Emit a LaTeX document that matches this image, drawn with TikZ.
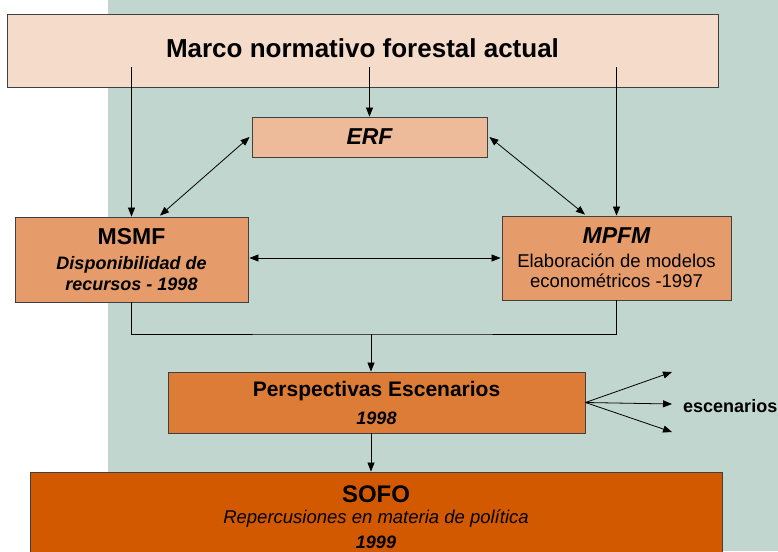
\documentclass[tikz,border=0pt]{standalone}
\usepackage{fontspec}
\setmainfont{Liberation Sans}
\usetikzlibrary{arrows.meta}
\definecolor{bgteal}{RGB}{192,214,207}
\definecolor{topfill}{RGB}{245,220,202}
\definecolor{erffill}{RGB}{237,187,153}
\definecolor{midfill}{RGB}{229,156,106}
\definecolor{perfill}{RGB}{220,124,55}
\definecolor{sofofill}{RGB}{211,89,0}
\definecolor{edge}{RGB}{64,64,64}
\newcommand{\fsTitle}{\fontsize{23}{23}\selectfont}
\newcommand{\fsBody}{\fontsize{18}{20.5}\selectfont}
\newcommand{\fsBodyL}{\fontsize{18.5}{20.5}\selectfont}
\tikzset{
  box/.style={draw=edge, line width=0.9pt, rectangle, inner sep=0pt, align=center},
  arr/.style={-{Triangle[length=9pt,width=7pt]}, line width=0.8pt, black},
  darr/.style={{Triangle[length=9pt,width=7pt]}-{Triangle[length=9pt,width=7pt]}, line width=0.8pt, black},
  plain/.style={line width=0.8pt, black},
}
\begin{document}
\begin{tikzpicture}[x=1pt,y=-1pt]
\useasboundingbox (0,0) rectangle (778,551);
\fill[white] (0,0) rectangle (778,551);
\fill[bgteal] (108,0) rectangle (778,551);

\node[box, fill=topfill, minimum width=711pt, minimum height=73pt, text depth=4pt,
  font=\fontsize{26}{28}\selectfont\bfseries] (top) at (362.5,50.5)
  {Marco normativo forestal actual};

\node[box, fill=erffill, minimum width=235pt, minimum height=40pt,
  font=\fsTitle\bfseries\itshape] (erf) at (369.5,137) {ERF};

\node[box, fill=midfill, minimum width=233pt, minimum height=85pt, font=\fsBody] (msmf) at (131.5,259.5)
  {{\fsTitle\bfseries MSMF}\\[4.5pt]{\bfseries\itshape Disponibilidad de}\\{\bfseries\itshape recursos - 1998}};

\node[box, fill=midfill, minimum width=229pt, minimum height=84pt, font=\fsBodyL] (mpfm) at (616.5,258)
  {{\fsTitle\bfseries\itshape MPFM}\\[3pt]{Elaboración de modelos}\\{econométricos -1997}};

\node[box, fill=perfill, minimum width=417pt, minimum height=61pt, font=\fsBody] (persp) at (376.5,402.5)
  {{\fontsize{21}{21}\selectfont\bfseries Perspectivas Escenarios}\\[7.5pt]{\bfseries\itshape 1998}};

\node[box, fill=sofofill, minimum width=692pt, minimum height=90pt, font=\fsBody] (sofo) at (376,517)
  {{\fontsize{24}{24}\selectfont\bfseries SOFO}\\[0.5pt]{\fsBodyL\itshape Repercusiones en materia de política}\\[4.5pt]{\bfseries\itshape 1999}};

\node[anchor=west, inner sep=0pt, font=\fsBody\bfseries] (esc) at (683,406) {escenarios};

\coordinate (merge) at (371,334);
\coordinate (e1) at (672,372);
\coordinate (e2) at (672,404);
\coordinate (e3) at (672,432);

% from top box
\draw[arr] ([yshift=20pt]top.south -| msmf.north) -- (msmf.north);
\draw[arr] ([yshift=20pt]top.south -| erf.north) -- (erf.north);
\draw[arr] ([yshift=20pt]top.south -| mpfm.north) -- (mpfm.north);

% ERF double arrows
\draw[darr] ([xshift=-2pt]erf.west) -- ([xshift=28.5pt,yshift=1pt]msmf.north);
\draw[darr] ([xshift=2pt]erf.east) -- ([xshift=-31.5pt,yshift=1pt]mpfm.north);

% MSMF <-> MPFM
\draw[darr] ([xshift=1pt]msmf.east |- 0,258) -- ([xshift=-1pt]mpfm.west |- 0,258);

% merge
\draw[plain] (msmf.south) |- (merge) -| (mpfm.south);
\draw[arr] (merge) -- (merge |- persp.north);

% persp -> sofo
\draw[arr] (persp.south -| merge) -- (sofo.north -| merge);

% escenarios
\draw[arr] (persp.east) -- (e1);
\draw[arr] (persp.east) -- (e2);
\draw[arr] (persp.east) -- (e3);
\end{tikzpicture}
\end{document}
